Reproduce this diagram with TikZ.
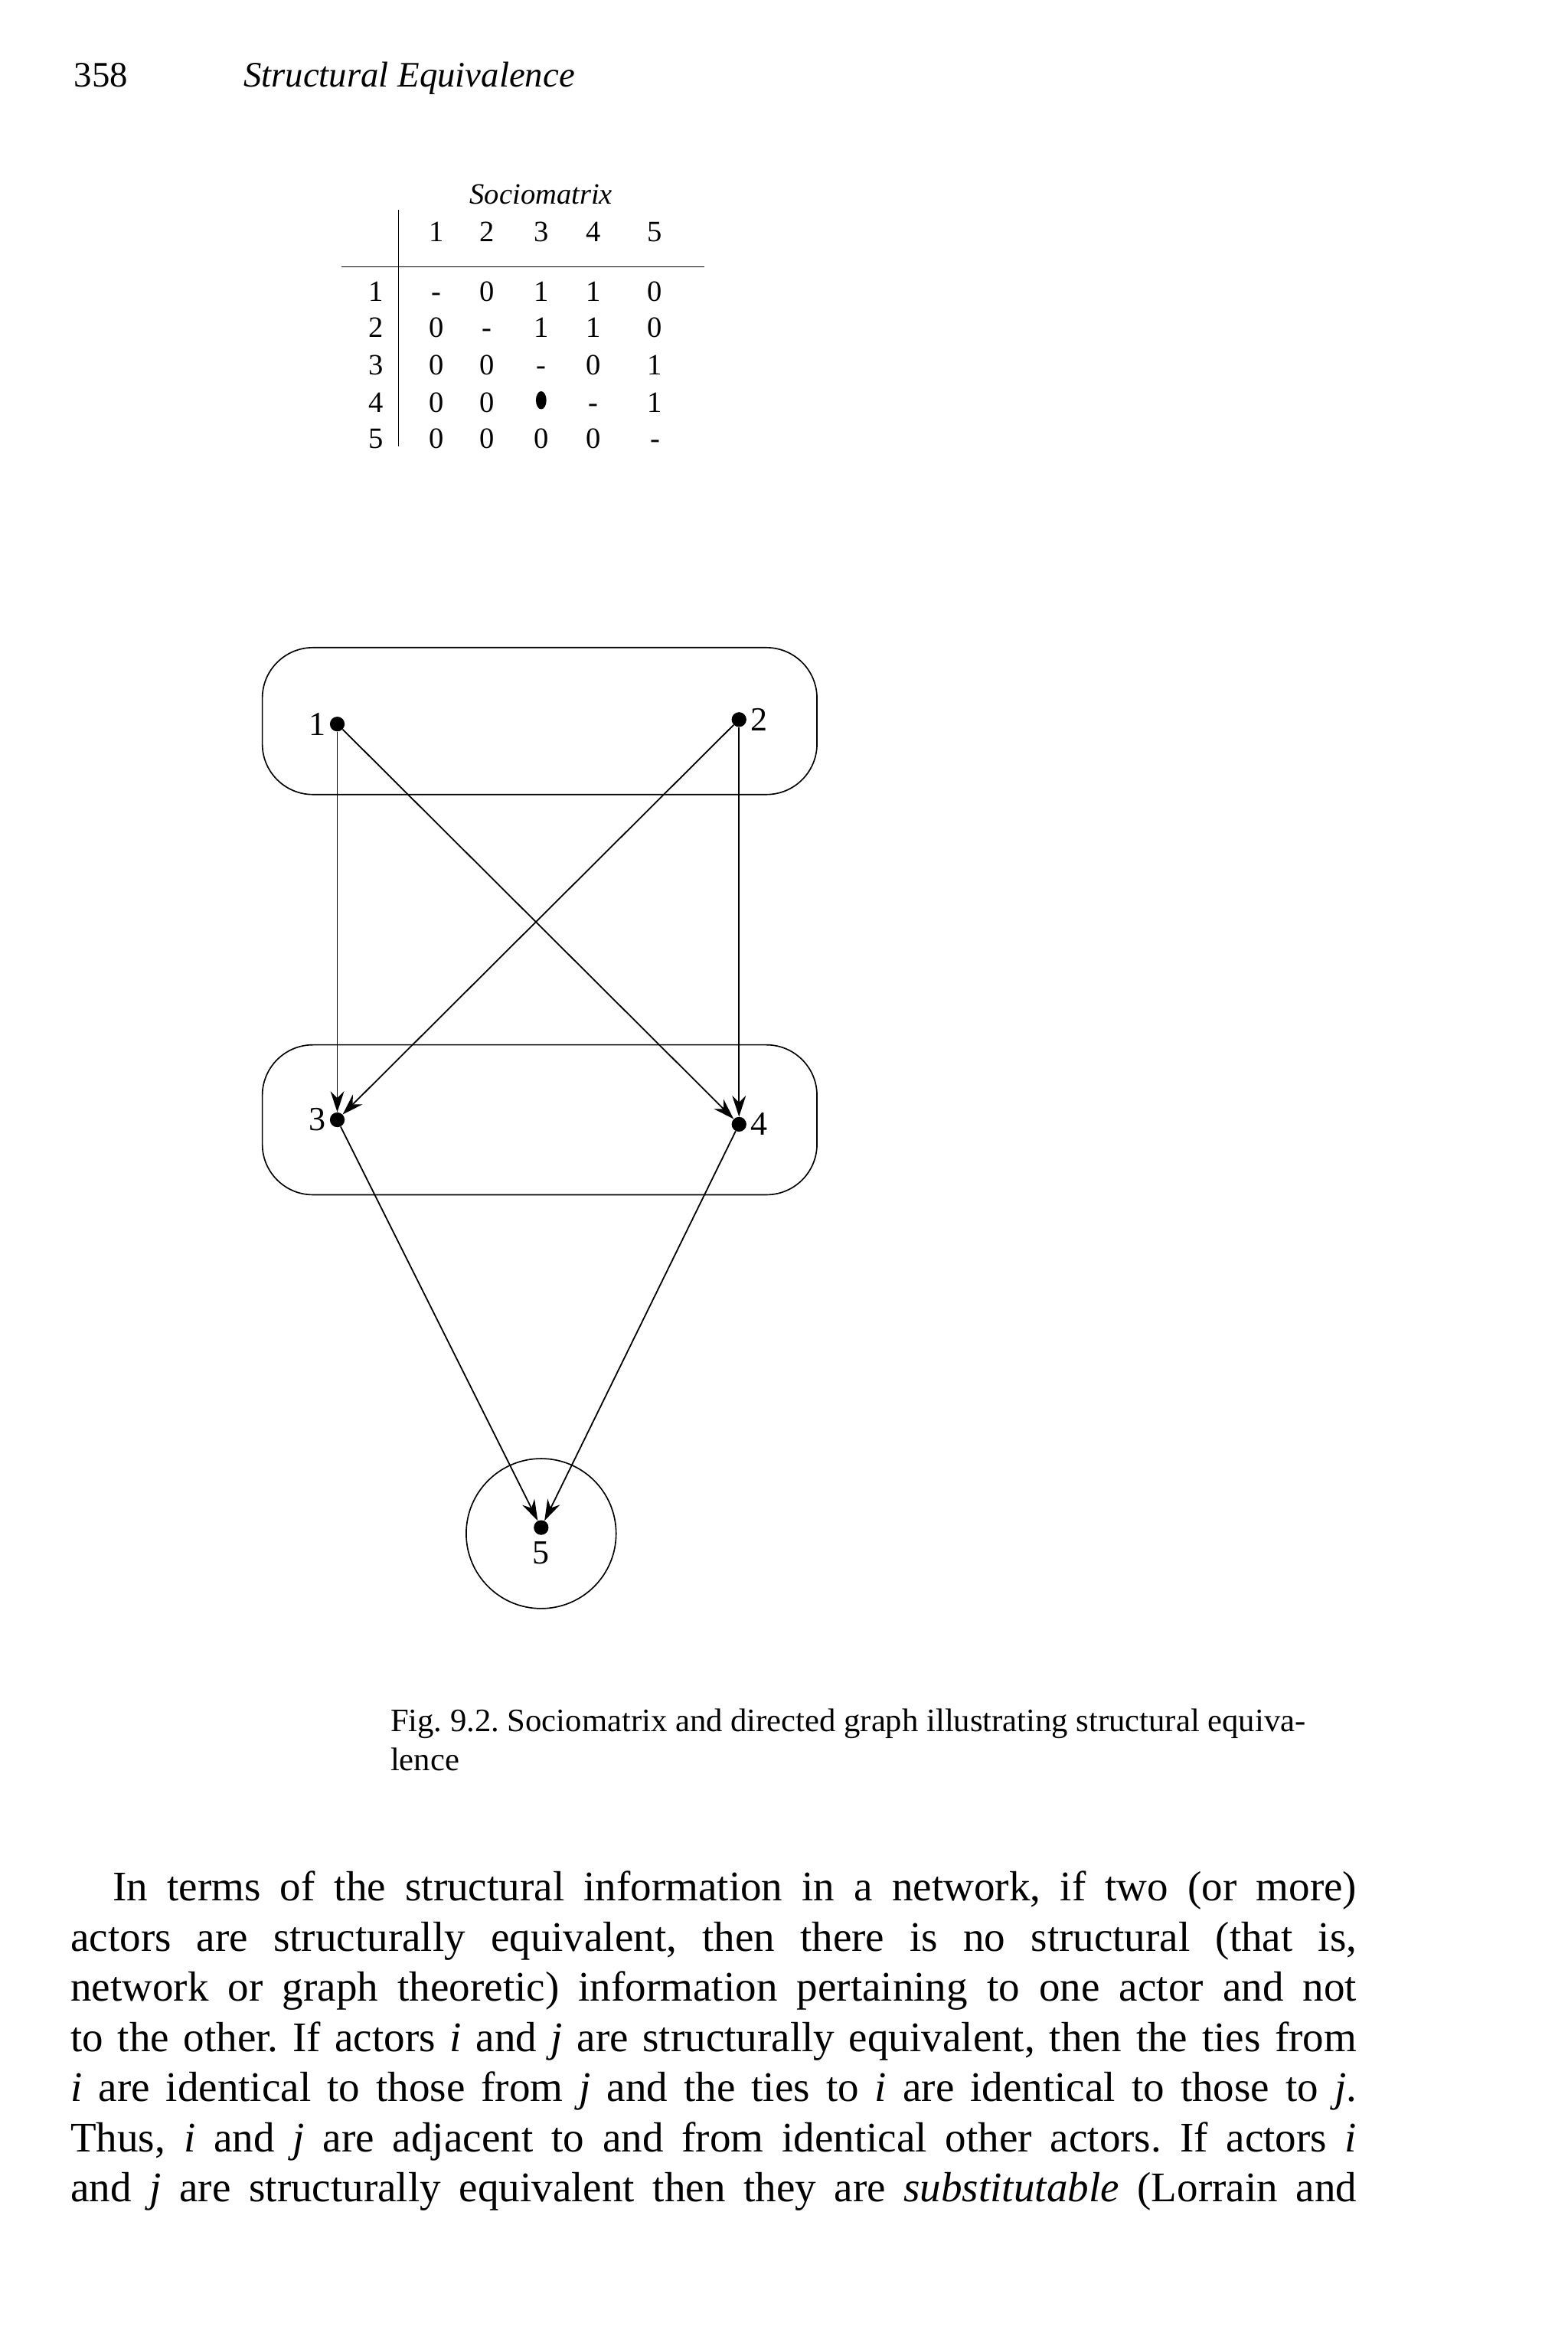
\documentclass[tikz,border=0pt]{standalone}
\usepackage{fontspec}
\setmainfont{Liberation Serif}
\usetikzlibrary{arrows.meta}
\begin{document}
\frenchspacing
\begin{tikzpicture}[x=0.05cm,y=-0.05cm,
  mx/.style={font=\fontsize{28}{30}\selectfont,anchor=base},
  vtx/.style={circle,fill,inner sep=0pt,minimum size=14pt},
  lab/.style={font=\fontsize{32}{34}\selectfont},
  arr/.style={-{Stealth[length=20pt,width=13pt]},line width=1.3pt}]
\useasboundingbox (0,0) rectangle (1046,1558.3);
\node[anchor=base west,font=\fontsize{34}{36}\selectfont] (pg) at (47,58) {358};
\node[anchor=base west,font=\fontsize{34}{36}\selectfont\itshape] (hd) at (160,58) {Structural Equivalence};
% matrix
\node[mx,font=\fontsize{28}{30}\selectfont\itshape] (st) at (361,136) {Sociomatrix};
\foreach \c/\x in {1/291,2/325,3/361,4/396,5/437} \node[mx] (h\c) at (\x,161) {\c};
\draw[line width=1pt] (266,140) -- (266,298);
\draw[line width=1pt] (228,178) -- (470,178);
\foreach \r/\y in {1/201,2/225,3/250,4/275,5/299} \node[mx] (r\r) at (251,\y) {\r};
\foreach \y/\a/\b/\c/\d/\e in {201/-/0/1/1/0,225/0/-/1/1/0,250/0/0/-/0/1,275/0/0/X/-/1,299/0/0/0/0/-}{
 \foreach \v/\x in {\a/291,\b/325,\c/361,\d/396,\e/437}{
  \if X\v \fill (\x,267) ellipse (3.5 and 6);\else \node[mx] at (\x,\y) {\v};\fi }}
% graph
\draw[line width=1.2pt,rounded corners=48] (175,432) rectangle (545,530);
\draw[line width=1.2pt,rounded corners=48] (175,697) rectangle (545,797);
\node[vtx] (n1) at (225,483) {};
\node[vtx] (n2) at (493,480) {};
\node[vtx] (n3) at (225,747) {};
\node[vtx] (n4) at (493,750) {};
\node[vtx] (n5) at (361,1019) {};
\draw[line width=1.2pt] (361,1023) circle (50);
\node[lab,anchor=east] at (n1.west) {1};
\node[lab,anchor=west] at (n2.east) {2};
\node[lab,anchor=east] at (n3.west) {3};
\node[lab,anchor=west] at (n4.east) {4};
\node[lab,anchor=north] at ([yshift=-3pt]n5.south) {5};
\draw[arr] (n1) -- (n3);
\draw[arr] (n1) -- (n4);
\draw[arr] (n2) -- (n3);
\draw[arr] (n2) -- (n4);
\draw[arr] (n3) -- (n5);
\draw[arr] (n4) -- (n5);
% caption
\node[anchor=base west,font=\fontsize{31}{33}\selectfont] (cap1) at (258,1155) {Fig. 9.2. Sociomatrix and directed graph illustrating structural equiva-};
\node[anchor=base west,font=\fontsize{31}{33}\selectfont] (cap2) at (258,1181) {lence};
% body
\node[anchor=north west,inner sep=0pt,text width=42.9cm,align=justify,font=\fontsize{40}{47.6}\selectfont] (body) at (47,1248) {\hspace*{40pt}In terms of the structural information in a network, if two (or more)\linebreak
actors are structurally equivalent, then there is no structural (that is,\linebreak
network or graph theoretic) information pertaining to one actor and not\linebreak
to the other. If actors \textit{i} and \textit{j} are structurally equivalent, then the ties from\linebreak
\textit{i} are identical to those from \textit{j} and the ties to \textit{i} are identical to those to \textit{j}.\linebreak
Thus, \textit{i} and \textit{j} are adjacent to and from identical other actors. If actors \textit{i}\linebreak
\makebox[\linewidth][s]{and \textit{j} are structurally equivalent then they are \textit{substitutable} (Lorrain and}};
\end{tikzpicture}
\end{document}
